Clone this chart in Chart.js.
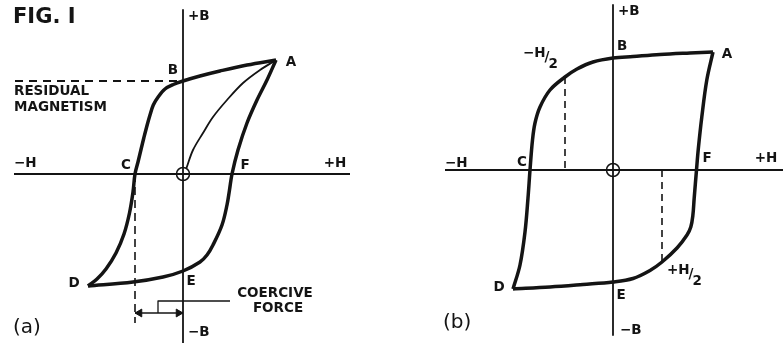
<!DOCTYPE html>
<html><head><meta charset="utf-8">
<script src="https://cdn.jsdelivr.net/npm/chart.js@4.4.1/dist/chart.umd.min.js"></script>
<style>
html,body{margin:0;padding:0;background:#fff;}
#wrap{position:relative;width:783px;height:343px;overflow:hidden;background:#fff;}
canvas{position:absolute;top:0;}
#ca{left:0;} #cb{left:391px;}
</style></head><body>
<div id="wrap"><canvas id="ca" width="391" height="343"></canvas><canvas id="cb" width="392" height="343"></canvas></div>
<script>
// ---------- Panel (a): values as [H, B] pairs ----------
const aUpperBranch = [[9.3,11.4],[6.4,10.9],[3.7,10.3],[1.7,9.8],[0,9.3],[-0.97,8.95],[-1.8,8.5],[-2.47,7.73],[-2.97,6.9],[-3.3,5.9],[-3.63,4.73],[-3.92,3.6],[-4.2,2.45],[-4.5,1.2],[-4.8,0],[-5.0,-1.8],[-5.35,-3.9],[-5.9,-6.0],[-6.7,-7.9],[-7.7,-9.5],[-8.6,-10.5],[-9.5,-11.2]];
const aLowerBranch = [[-9.5,-11.2],[-5.0,-10.8],[-2.0,-10.3],[0,-9.7],[1.7,-8.8],[2.4,-8.1],[3.0,-7.1],[3.9,-5.1],[4.4,-3.1],[4.65,-1.6],[4.9,0],[5.5,2.4],[6.4,5.1],[7.4,7.4],[8.4,9.4],[9.3,11.4]];
const aInitialCurve = [[0.35,0.6],[1.0,2.4],[2.0,4.1],[3.0,5.7],[4.4,7.4],[6.0,9.1],[7.7,10.4],[9.3,11.4]];
const aHAxis = [[-16.9,0],[16.7,0]];
const aBAxis = [[0,16.4],[0,-17.5]];
const aResidualLine = [[-16.8,9.3],[0,9.3]];
const aCoerciveDrop = [[-4.8,0],[-4.8,-14.9]];
const aCoerciveArrow = [[-4.8,-13.9],[0,-13.9]];
const aCoerciveLeader = [[-2.5,-13.9],[-2.5,-12.7],[4.7,-12.7]];
const aArrowLeft = [[-4.35,-13.9]];
const aArrowRight = [[-0.45,-13.9]];
const aLabels = [
  ['FIG. I',-17.0,15.6,'title','left'],
  ['+B',0.5,15.8,'lab','left'],
  ['B',-1.0,10.4,'lab','center'],
  ['A',10.8,11.2,'lab','center'],
  ['RESIDUAL',-16.9,8.3,'lab','left'],
  ['MAGNETISM',-16.9,6.7,'lab','left'],
  ['−H',-16.9,1.1,'lab','left'],
  ['C',-5.7,0.9,'lab','center'],
  ['F',6.2,0.9,'lab','center'],
  ['+H',15.2,1.1,'lab','center'],
  ['D',-10.9,-10.9,'lab','center'],
  ['E',0.8,-10.7,'lab','center'],
  ['COERCIVE',9.2,-11.9,'lab','center'],
  ['FORCE',9.5,-13.4,'lab','center'],
  ['(a)',-17.0,-15.4,'panel','left'],
  ['−B',0.5,-15.8,'lab','left']
];

// ---------- Panel (b): values as [H, B] pairs ----------
const bUpperBranch = [[10.0,11.8],[7.7,11.7],[4.7,11.55],[2.0,11.35],[0,11.2],[-2.0,10.8],[-3.6,10.1],[-4.8,9.3],[-6.3,8.0],[-7.3,6.3],[-7.8,4.7],[-8.05,3.0],[-8.3,0],[-8.5,-2.8],[-8.8,-6.2],[-9.3,-9.5],[-10.0,-11.9]];
const bLowerBranch = [[-10.0,-11.9],[-6.3,-11.7],[-3.0,-11.45],[0,-11.2],[2.0,-10.85],[3.7,-10.05],[4.9,-9.2],[6.4,-7.8],[7.4,-6.5],[7.78,-5.7],[7.98,-4.6],[8.12,-2.8],[8.35,0],[8.52,2.0],[8.88,5.3],[9.38,9.0],[10.0,11.8]];
const bHAxis = [[-16.8,0],[17.2,0]];
const bBAxis = [[0,16.5],[0,-16.5]];
const bHalfNeg = [[-4.8,9.3],[-4.8,0]];
const bHalfPos = [[4.9,0],[4.9,-9.2]];
const bLabels = [
  ['+B',0.5,15.9,'lab','left'],
  ['B',0.4,12.4,'lab','left'],
  ['A',11.4,11.6,'lab','center'],
  ['−H/2',-9.0,11.7,'frac','left'],
  ['−H',-16.8,0.7,'lab','left'],
  ['C',-9.1,0.8,'lab','center'],
  ['F',9.4,1.2,'lab','center'],
  ['+H',15.3,1.2,'lab','center'],
  ['D',-11.4,-11.7,'lab','center'],
  ['E',0.8,-12.5,'lab','center'],
  ['+H/2',5.4,-10.0,'frac','left'],
  ['(b)',-17.0,-15.3,'panel','left'],
  ['−B',0.7,-16.0,'lab','left']
];

const INK = '#141414';
const FONTS = {
  title: 'bold 21px "DejaVu Sans"',
  lab: 'bold 13.5px "DejaVu Sans"',
  frac: 'bold 13.5px "DejaVu Sans"',
  panel: '20px "DejaVu Sans"'
};
const pts = arr => arr.map(p => ({x:p[0], y:p[1]}));

function lineDs(arr, w, opts){
  return Object.assign({data: pts(arr), showLine:true, borderColor:INK, borderWidth:w,
    pointRadius:0, pointHoverRadius:0, tension:0, fill:false, borderJoinStyle:'round', borderCapStyle:'butt'}, opts||{});
}
const smooth = {tension:0.35};

const textPlugin = {
  id:'txt',
  afterDatasetsDraw(chart, args, opts){
    const {ctx} = chart, sx = chart.scales.x, sy = chart.scales.y;
    ctx.save();
    ctx.fillStyle = INK;
    ctx.textBaseline = 'middle';
    for (const [t,h,b,kind,align] of opts.items){
      const px = sx.getPixelForValue(h), py = sy.getPixelForValue(b);
      ctx.font = FONTS[kind];
      ctx.textAlign = align;
      if (kind === 'frac'){
        const parts = t.split('/');
        ctx.textAlign = 'left';
        ctx.fillText(parts[0], px, py);
        const w = ctx.measureText(parts[0]).width;
        ctx.fillText('/', px + w - 1, py + 4);
        const sw = ctx.measureText('/').width;
        ctx.fillText(parts[1], px + w + sw - 2, py + 11);
      } else {
        ctx.fillText(t, px, py);
      }
    }
    ctx.restore();
  }
};

function makeChart(id, datasets, labels, xr, yr){
  return new Chart(document.getElementById(id), {
    type:'scatter',
    data:{datasets},
    options:{
      responsive:false, animation:false, devicePixelRatio:1,
      layout:{padding:0, autoPadding:false},
      events:[],
      scales:{
        x:{type:'linear', min:xr[0], max:xr[1], display:false},
        y:{type:'linear', min:yr[0], max:yr[1], display:false}
      },
      plugins:{legend:{display:false}, tooltip:{enabled:false}, title:{display:false}, txt:{items:labels}}
    },
    plugins:[textPlugin]
  });
}

const originA = {data:pts([[0,0]]), pointRadius:6.5, pointStyle:'circle', borderColor:INK, borderWidth:1.5, backgroundColor:'rgba(0,0,0,0)', showLine:false};
const arrowStyle = {pointRadius:4.5, pointStyle:'triangle', borderColor:INK, backgroundColor:INK, borderWidth:1, showLine:false};

makeChart('ca', [
  lineDs(aUpperBranch, 3.5, smooth),
  lineDs(aLowerBranch, 3.5, smooth),
  lineDs(aInitialCurve, 1.8, smooth),
  lineDs(aHAxis, 1.8),
  lineDs(aBAxis, 1.8),
  lineDs(aResidualLine, 1.8, {borderDash:[8,6]}),
  lineDs(aCoerciveDrop, 1.6, {borderDash:[8,5]}),
  lineDs(aCoerciveArrow, 1.6),
  lineDs(aCoerciveLeader, 1.3),
  Object.assign({data:pts(aArrowLeft), rotation:-90}, arrowStyle),
  Object.assign({data:pts(aArrowRight), rotation:90}, arrowStyle),
  originA
], aLabels, [-18.3,20.8], [-16.9,17.4]);

makeChart('cb', [
  lineDs(bUpperBranch, 3.5, smooth),
  lineDs(bLowerBranch, 3.5, smooth),
  lineDs(bHAxis, 1.8),
  lineDs(bBAxis, 1.8),
  lineDs(bHalfNeg, 1.6, {borderDash:[7,5]}),
  lineDs(bHalfPos, 1.6, {borderDash:[7,5]}),
  Object.assign({}, originA, {data:pts([[0,0]])})
], bLabels, [-22.2,17.0], [-17.3,17.0]);
</script>
</body></html>
